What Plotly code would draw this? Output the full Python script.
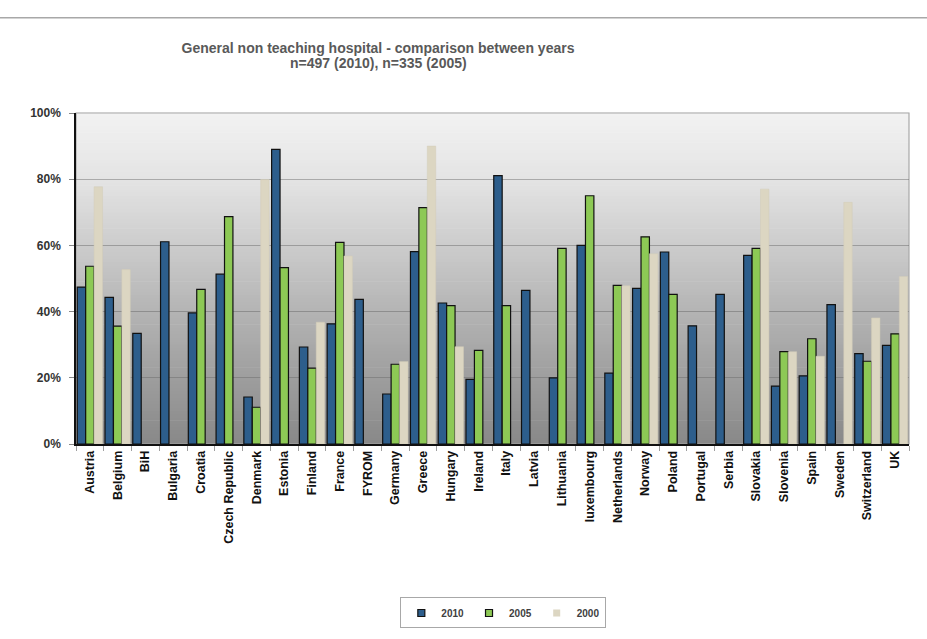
import plotly.graph_objects as go

countries = ["Austria", "Belgium", "BiH", "Bulgaria", "Croatia", "Czech Republic", "Denmark",
             "Estonia", "Finland", "France", "FYROM", "Germany", "Greece", "Hungary", "Ireland",
             "Italy", "Latvia", "Lithuania", "luxembourg", "Netherlands", "Norway", "Poland",
             "Portugal", "Serbia", "Slovakia", "Slovenia", "Spain", "Sweden", "Switzerland", "UK"]

v2010 = [47.4, 44.3, 33.4, 61.1, 39.6, 51.3, 14.2, 89.0, 29.3, 36.3, 43.7, 15.1, 58.1, 42.6, 19.5,
         81.1, 46.4, 20.0, 60.0, 21.4, 47.0, 58.0, 35.7, 45.2, 57.0, 17.5, 20.6, 42.1, 27.3, 29.8]
v2005 = [53.7, 35.6, None, None, 46.7, 68.7, 11.1, 53.3, 22.9, 60.9, None, 24.1, 71.4, 41.8, 28.3,
         41.8, None, 59.1, 75.0, 47.9, 62.6, 45.2, None, None, 59.1, 27.9, 31.8, None, 25.0, 33.3]
v2000 = [77.7, 52.7, None, None, None, None, 79.9, None, 36.8, 56.8, None, 24.9, 90.0, 29.4, None,
         None, None, None, None, 47.8, 57.5, None, None, None, 77.0, 27.9, 26.5, 73.0, 38.1, 50.6]

series_names = ["2010", "2005", "2000"]
y_ticks = [0, 0.2, 0.4, 0.6, 0.8, 1.0]
y_tick_labels = ["0%", "20%", "40%", "60%", "80%", "100%"]
title_line1 = "General non teaching hospital - comparison between years"
title_line2 = "n=497 (2010), n=335 (2005)"

FONT = "Liberation Sans, Arial, sans-serif"


def frac(vals):
    return [None if v is None else v / 100.0 for v in vals]


fig = go.Figure()
fills = ["#2D5E8C", "#8DC955", "#DCD6C2"]
edges = [dict(color="#111111", width=1.2), dict(color="#111111", width=1.2),
         dict(color="#D2CCB8", width=0.5)]
legend_edges = [dict(color="#111111", width=1.2), dict(color="#111111", width=1.2),
                dict(color="#DCD6C2", width=0)]
for name, vals, fc, ed in zip(series_names, [v2010, v2005, v2000], fills, edges):
    fig.add_trace(go.Bar(x=countries, y=frac(vals), name=name, legendgroup=name,
                         showlegend=False, marker=dict(color=fc, line=ed)))
# legend entries with small square keys, tied to the bar series
for name, fc, ed in zip(series_names, fills, legend_edges):
    fig.add_trace(go.Scatter(x=[None], y=[None], mode="markers", name=name, legendgroup=name,
                             marker=dict(symbol="square", size=7, color=fc, line=ed)))

# background gradient of the plot area (strips, drawn below gridlines)
stops = [(0.0, 136), (0.2, 158), (0.4, 180), (0.6, 204), (0.8, 228), (1.0, 242)]


def grey_at(t):
    for (a, ga), (b, gb) in zip(stops[:-1], stops[1:]):
        if a <= t <= b:
            return ga + (gb - ga) * (t - a) / (b - a)
    return stops[-1][1]


shapes = []
n = 100
for i in range(n):
    y0 = i / n
    y1 = (i + 1) / n
    g = int(round(grey_at((y0 + y1) / 2)))
    shapes.append(dict(type="rect", xref="paper", yref="paper", x0=0, x1=1, y0=y0, y1=y1 + 0.002,
                       fillcolor=f"rgb({g},{g},{g})", line=dict(width=0), layer="below"))
shapes.append(dict(type="rect", xref="paper", yref="paper", x0=0, x1=1, y0=0, y1=1,
                   line=dict(color="#A8A8A8", width=1.2), layer="below"))
# thin rule at the very top of the page
shapes.append(dict(type="line", xref="paper", yref="paper", x0=-0.095, x1=1.03, y0=1.288, y1=1.288,
                   line=dict(color="#A8A8A8", width=1.5)))

fig.update_layout(
    width=927, height=639,
    margin=dict(l=76, r=18, t=113, b=194),
    paper_bgcolor="white",
    plot_bgcolor="rgba(0,0,0,0)",
    font=dict(family=FONT, color="#333333"),
    barmode="group", bargap=0.09, bargroupgap=0.0,
    shapes=shapes,
    title=dict(
        text="<b>" + title_line1 + "</b>",
        x=378 / 927, xanchor="center", xref="container",
        y=1 - 48 / 639, yanchor="middle", yref="container",
        font=dict(family=FONT, size=14, color="#595959"),
    ),
    annotations=[dict(
        text="<b>" + title_line2 + "</b>", xref="paper", yref="paper",
        x=(378 - 76) / 833, y=(445 - 63) / 332.3, xanchor="center", yanchor="middle",
        showarrow=False, font=dict(family=FONT, size=14, color="#595959"),
    )],
    legend=dict(
        orientation="h", x=0.513, xanchor="center", y=-0.506, yanchor="middle",
        bordercolor="#A8A8A8", borderwidth=1, bgcolor="white",
        font=dict(family=FONT, size=10, color="#404040", weight="bold"),
        traceorder="normal", itemwidth=30, tracegroupgap=0,
    ),
    showlegend=True,
)

fig.update_xaxes(
    type="category", tickangle=-90,
    tickfont=dict(family=FONT, size=12.5, color="#111111", weight="bold"),
    ticks="outside", tickson="boundaries", ticklen=5, tickcolor="#A0A0A0",
    showline=True, linecolor="#111111", linewidth=1.5,
    showgrid=False, zeroline=False,
)
fig.update_yaxes(
    range=[0, 1], tickvals=y_ticks, ticktext=y_tick_labels,
    tickfont=dict(family=FONT, size=12, color="#333333", weight="bold"),
    ticks="outside", ticklen=5, tickcolor="#888888", ticklabelstandoff=6,
    showline=True, linecolor="#111111", linewidth=1.5,
    showgrid=True, gridcolor="rgba(90,90,90,0.42)", gridwidth=1,
    zeroline=False,
)

fig.write_html("out.html", config={"displayModeBar": False},
               post_script="document.body.style.margin='0';")
